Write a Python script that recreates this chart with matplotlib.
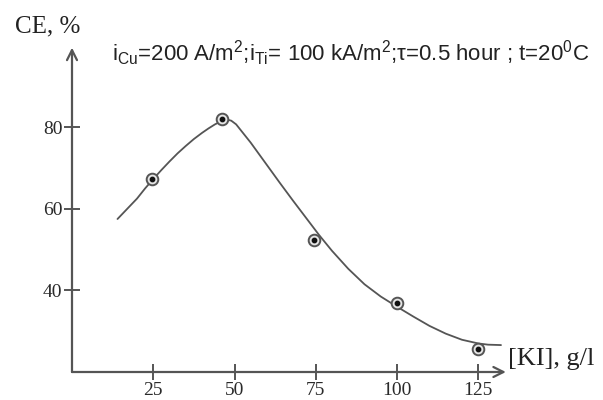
import matplotlib
matplotlib.use('Agg')
import matplotlib.pyplot as plt

# measured points
ki_points = [24.5, 46, 74.5, 100, 125]
ce_points = [67.3, 82, 52.3, 37, 25.6]

# hand-drawn fitted curve
ki_curve = [14, 17, 20, 22.5, 25, 27.5, 30, 32.5, 35, 37.5, 40, 42, 44, 45.5, 47,
            48, 49, 50.5, 52, 55, 58, 61, 64, 68, 72, 76, 80, 85, 90, 95, 100,
            105, 110, 115, 120, 125, 128, 132]
ce_curve = [57.5, 60, 62.5, 65, 67.3, 69.5, 71.6, 73.6, 75.4, 77.1, 78.6, 79.7,
            80.7, 81.3, 81.7, 81.8, 81.6, 80.7, 79.2, 76.2, 72.9, 69.6, 66.3,
            62, 57.8, 53.6, 49.7, 45.3, 41.5, 38.5, 36, 33.6, 31.3, 29.4, 27.9,
            27, 26.7, 26.6]

x_ticks = [25, 50, 75, 100, 125]
y_ticks = [40, 60, 80]

plt.rcParams['mathtext.fontset'] = 'custom'
plt.rcParams['mathtext.rm'] = 'Liberation Sans'
plt.rcParams['mathtext.it'] = 'Liberation Sans'

axis_col = '#555555'
serif = 'Liberation Serif'

fig = plt.figure(figsize=(6.03, 4.0), dpi=100)
ax = fig.add_axes([72 / 603, 0.07, 438.75 / 603, 0.816])
ax.set_xlim(0, 135)
ax.set_ylim(20, 100)

for s in ax.spines.values():
    s.set_visible(False)

# axes with open arrow heads
arrow = dict(arrowstyle='->', color=axis_col, lw=1.6, shrinkA=0, shrinkB=0,
             mutation_scale=18)
ax.annotate('', xy=(133.5, 20), xytext=(0, 20), arrowprops=arrow, annotation_clip=False)
ax.annotate('', xy=(0, 99.5), xytext=(0, 20), arrowprops=arrow, annotation_clip=False)

ax.plot(ki_curve, ce_curve, color='#555555', lw=1.3, solid_joinstyle='round',
        solid_capstyle='round')
ax.scatter(ki_points, ce_points, s=70, facecolor='#e6e6e6', edgecolor='#555555',
           linewidth=1.4, zorder=3)
ax.scatter(ki_points, ce_points, s=10, color='#111111', zorder=4)

ax.set_xticks(x_ticks)
ax.set_yticks(y_ticks)
ax.tick_params(direction='inout', length=12, width=1.4, color=axis_col,
               labelsize=14, labelcolor='#2a2a2a')
ax.tick_params(axis='x', pad=1)
ax.tick_params(axis='y', pad=1)
for lab in ax.get_xticklabels() + ax.get_yticklabels():
    lab.set_family(serif)

fig.text(15 / 603, 0.935, 'CE, %', family=serif, fontsize=18, color='#222222',
         va='center', ha='left')
fig.text(508 / 603, 0.102, '[KI], g/l', family=serif, fontsize=19, color='#222222',
         va='center', ha='left')
fig.text(112 / 603, 0.866,
         r'i$_{\mathrm{Cu}}$=200 A/m$^2$;i$_{\mathrm{Ti}}$= 100 kA/m$^2$;τ=0.5 hour ; t=20$^0$C',
         family='Liberation Sans', fontsize=16, color='#222222', va='center', ha='left')

fig.savefig('out.png', dpi=100)
